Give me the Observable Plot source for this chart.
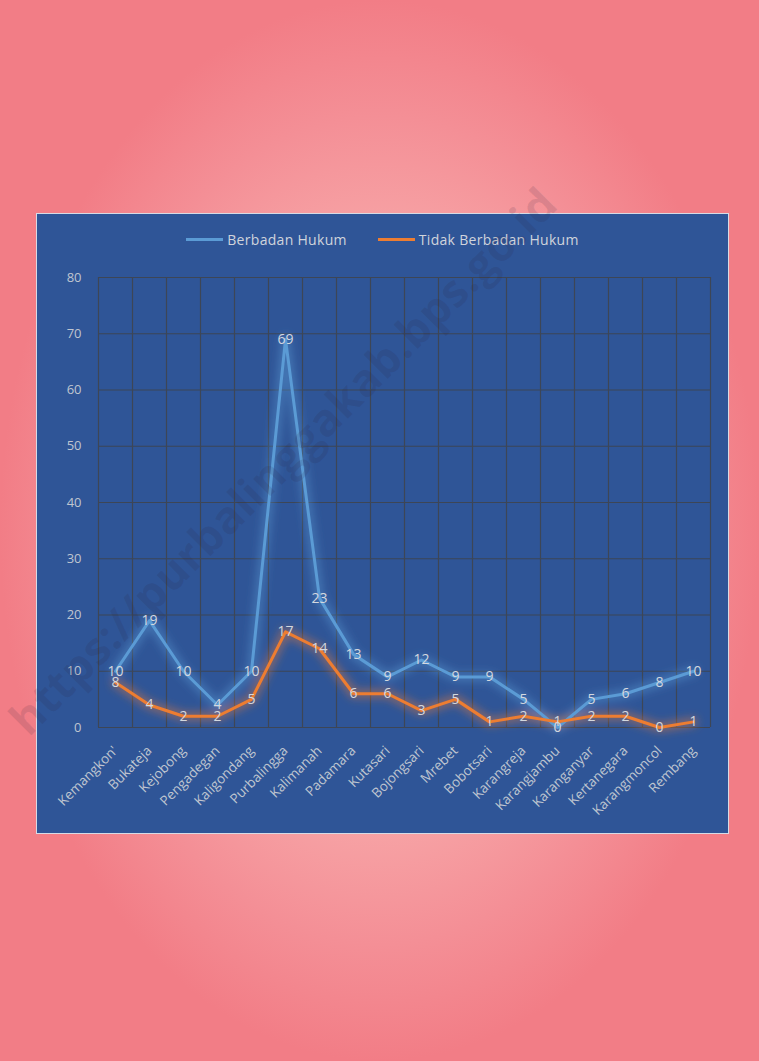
<!DOCTYPE html>
<html>
<head>
<meta charset="utf-8">
<script src="https://cdn.jsdelivr.net/npm/d3@7"></script>
<script src="https://cdn.jsdelivr.net/npm/@observablehq/plot@0.6"></script>
<style>
  html, body { margin: 0; padding: 0; }
  body { width: 759px; height: 1061px; overflow: hidden; font-family: "Open Sans", sans-serif; }
  #page {
    position: relative; width: 759px; height: 1061px; overflow: hidden;
    background: radial-gradient(ellipse closest-side at 50% 50%, #fbc3c1 0%, #f8acac 45%, #f48f96 78%, #f27d86 100%);
  }
  #panel {
    position: absolute; left: 36px; top: 213px; width: 693px; height: 621px;
    box-sizing: border-box; border: 1px solid #d6dbe6; background: #2f5597;
  }
  #legend {
    height: 50px; display: flex; justify-content: center; align-items: center; gap: 31px;
    color: #d0d4dc; font-size: 14px; letter-spacing: 0.3px; box-sizing: border-box;
  }
  #legend .item { display: flex; align-items: center; gap: 4px; }
  #legend .sw { width: 37px; height: 3px; }
  #panel svg { display: block; }
  #wm {
    position: absolute; left: 282px; top: 460px; transform: translate(-50%, -50%) rotate(-45deg);
    font: bold 45px "Open Sans", sans-serif; color: rgba(40, 30, 60, 0.12); white-space: nowrap; pointer-events: none;
    letter-spacing: 0.5px;
  }
</style>
</head>
<body>
<div id="page">
  <div id="panel">
    <div id="legend"></div>
    <div id="chart"></div>
  </div>
  <div id="wm">https://purbalinggakab.bps.go.id</div>
</div>
<script>
const categories = ["Kemangkon'", "Bukateja", "Kejobong", "Pengadegan", "Kaligondang", "Purbalingga", "Kalimanah", "Padamara", "Kutasari", "Bojongsari", "Mrebet", "Bobotsari", "Karangreja", "Karangjambu", "Karanganyar", "Kertanegara", "Karangmoncol", "Rembang"];
const berbadanHukum = [10, 19, 10, 4, 10, 69, 23, 13, 9, 12, 9, 9, 5, 0, 5, 6, 8, 10];
const tidakBerbadanHukum = [8, 4, 2, 2, 5, 17, 14, 6, 6, 3, 5, 1, 2, 1, 2, 2, 0, 1];
const seriesNames = ["Berbadan Hukum", "Tidak Berbadan Hukum"];
const seriesColors = ["#5b9bd5", "#ed7d31"];
const yTicks = [0, 10, 20, 30, 40, 50, 60, 70, 80];

const data = [
  ...categories.map((c, i) => ({ c, v: berbadanHukum[i], s: seriesNames[0] })),
  ...categories.map((c, i) => ({ c, v: tidakBerbadanHukum[i], s: seriesNames[1] }))
];

// legend
const legend = document.getElementById("legend");
seriesNames.forEach((n, i) => {
  const it = document.createElement("div");
  it.className = "item";
  it.innerHTML = `<span class="sw" style="background:${seriesColors[i]}"></span><span>${n}</span>`;
  legend.appendChild(it);
});

const W = 691, H = 569, ML = 61, MR = 18, MT = 13, MB = 106;
const bw = (W - ML - MR) / categories.length;
const grid = "#3d4656";

const chart = Plot.plot({
  width: W, height: H,
  marginLeft: ML, marginRight: MR, marginTop: MT, marginBottom: MB,
  x: { type: "band", domain: categories, padding: 0, label: null },
  y: { domain: [0, 80], label: null },
  color: { domain: seriesNames, range: seriesColors },
  style: { background: "transparent", color: "#bfc5d0", fontFamily: "Open Sans, sans-serif", fontSize: "13px", overflow: "visible" },
  marks: [
    Plot.ruleY(yTicks, { stroke: grid, strokeWidth: 1.2 }),
    Plot.ruleX(categories, { x: d => d, dx: -bw / 2, stroke: grid, strokeWidth: 1.2 }),
    Plot.ruleX(categories.slice(-1), { x: d => d, dx: bw / 2, stroke: grid, strokeWidth: 1.2 }),
    Plot.line(data, { x: "c", y: "v", z: "s", stroke: "s", strokeWidth: 9, strokeOpacity: 0.45 }),
    Plot.line(data, { x: "c", y: "v", z: "s", stroke: "s", strokeWidth: 3 }),
    Plot.text(data, { x: "c", y: "v", text: d => String(d.v), fill: "#d4d8df", fontSize: 14 }),
    Plot.axisY({ ticks: yTicks, tickSize: 0, tickPadding: 17, fontSize: 13, label: null }),
    Plot.axisX({ tickRotate: -45, tickSize: 0, tickPadding: 21, fontSize: 13.5, label: null })
  ]
});
document.getElementById("chart").appendChild(chart);

// glow filter on the wide lines
const ns = "http://www.w3.org/2000/svg";
const defs = document.createElementNS(ns, "defs");
defs.innerHTML = `<filter id="glow" x="-20%" y="-20%" width="140%" height="140%"><feGaussianBlur stdDeviation="4"/></filter>`;
chart.insertBefore(defs, chart.firstChild);
const lineGroups = chart.querySelectorAll('g[aria-label="line"]');
if (lineGroups.length) lineGroups[0].setAttribute("filter", "url(#glow)");
</script>
</body>
</html>
